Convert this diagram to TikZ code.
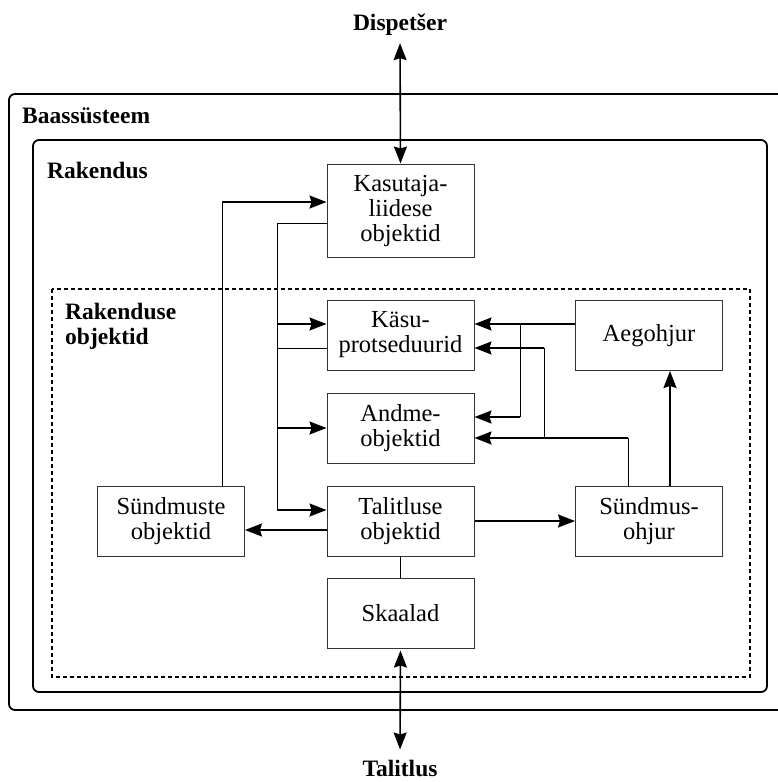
\documentclass[tikz,border=0pt]{standalone}
\usepackage{fontspec}
\setmainfont{Liberation Serif}
\usetikzlibrary{arrows.meta}

\begin{document}
\begin{tikzpicture}[
        x=1pt, y=-1pt,
        box/.style={draw=black!80, line width=1pt, minimum width=147pt, minimum height=70pt,
            align=center, inner sep=0pt, font=\fontsize{24.5}{25}\selectfont},
        title/.style={font=\bfseries\fontsize{23.5}{25}\selectfont, align=left, inner sep=0pt},
        frame/.style={draw, line width=1.8pt, rounded corners=6pt},
        arr/.style={-{Stealth[length=17pt,width=13pt,inset=2pt]}, line width=1.6pt},
        dbl/.style={{Stealth[length=17pt,width=13pt,inset=2pt]}-{Stealth[length=17pt,width=13pt,inset=2pt]}, line width=1.6pt},
        thin/.style={line width=1pt}
    ]
    \useasboundingbox (0,0) rectangle (778,782);

    % Raamid
    \draw[frame] (9,94) rectangle (800,710);
    \draw[frame] (33,140) rectangle (767,692);
    \draw[line width=1.3pt, dash pattern=on 4pt off 3pt] (52,289) rectangle (750,677);
    \node[title, anchor=base west] (base) at (22,123) {Baassüsteem};
    \node[title, anchor=base west] (rak) at (47,178) {Rakendus};
    \node[title, anchor=north west] (rakobj) at (65,303) {Rakenduse\\objektid};

    % Välised osalised
    \node[title, anchor=base] (disp) at (400,30) {Dispetšer};
    \node[title, anchor=base] (tal) at (400,776) {Talitlus};

    % Plokid
    \node[box, minimum height=93pt] (kasutaja) at (400.5,210.5) {Kasutaja-\\liidese\\objektid};
    \node[box] (kasu) at (400.5,335) {Käsu-\\protseduurid};
    \node[box] (andme) at (400.5,428) {Andme-\\objektid};
    \node[box] (talitluse) at (400.5,521) {Talitluse\\objektid};
    \node[box] (skaalad) at (400.5,613) {Skaalad};
    \node[box] (sundmuste) at (171,521) {Sündmuste\\objektid};
    \node[box] (aeg) at (649,335.5) {Aegohjur};
    \node[box] (sundohj) at (649,521) {Sündmus-\\ohjur};

    % Välised ühendused
    \draw[dbl, shorten <=8pt] (disp.south) -- (kasutaja.north);
    \draw[dbl, shorten <=2pt, shorten >=10pt] (skaalad.south) -- (tal.north);

    % Vasak siin
    \coordinate (lTop) at (277,223);
    \coordinate (lK) at (277,324);
    \coordinate (lP) at (277,348);
    \coordinate (lA) at (277,428);
    \coordinate (lT) at (277,510);
    \draw[thin] (kasutaja.west |- lTop) -- (lTop) -- (lT);
    \draw[arr] (lK) -- (lK -| kasu.west);
    \draw[thin] (lP) -- (lP -| kasu.west);
    \draw[arr] (lA) -- (lA -| andme.west);
    \draw[arr] (lT) -- (lT -| talitluse.west);

    % Sündmuste objektid
    \coordinate (sK) at (222,202);
    \coordinate (tS) at (300,530);
    \draw[thin] (sundmuste.north -| sK) -- (sK);
    \draw[arr] (sK) -- (sK -| kasutaja.west);
    \draw[arr] (tS -| talitluse.west) -- (tS -| sundmuste.east);
    \draw[arr] (talitluse) -- (sundohj);
    \draw[thin] (talitluse) -- (skaalad);

    % Aegohjur
    \coordinate (aK) at (520,324);
    \coordinate (aA) at (520,417);
    \draw[arr] (aeg.west |- aK) -- (aK -| kasu.east);
    \draw[thin] (aK) -- (aA);
    \draw[arr] (aA) -- (aA -| andme.east);

    % Sündmusohjur
    \coordinate (oA) at (670,440);
    \coordinate (oS) at (628,438);
    \coordinate (oB) at (544,438);
    \coordinate (oK) at (544,348);
    \draw[arr] (sundohj.north -| oA) -- (oA |- aeg.south);
    \draw[thin] (sundohj.north -| oS) -- (oS);
    \draw[arr] (oS) -- (oS -| andme.east);
    \draw[thin] (oB) -- (oK);
    \draw[arr] (oK) -- (oK -| kasu.east);
\end{tikzpicture}
\end{document}
